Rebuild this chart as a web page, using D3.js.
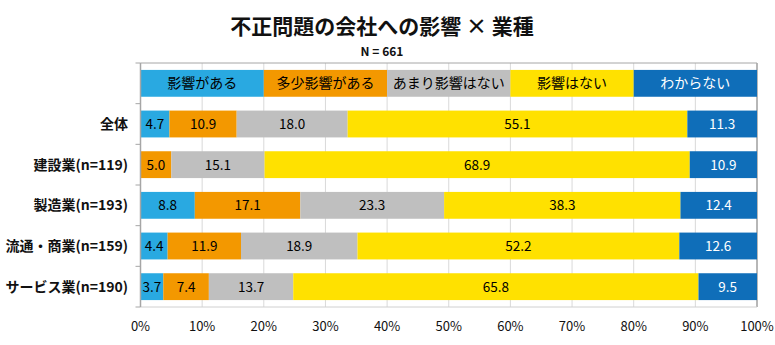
<!DOCTYPE html>
<html><head><meta charset="utf-8">
<script src="https://cdn.jsdelivr.net/npm/d3@7"></script>
<style>body{margin:0;background:#fff;} svg{display:block;font-family:"Noto Sans CJK JP","Noto Sans",sans-serif;}</style>
</head><body><svg id="c" width="775" height="345"></svg>
<script>
const title = "不正問題の会社への影響 × 業種";
const subtitle = "N = 661";
const categories = ["全体","建設業(n=119)","製造業(n=193)","流通・商業(n=159)","サービス業(n=190)"];
const seriesNames = ["影響がある","多少影響がある","あまり影響はない","影響はない","わからない"];
const vAru    = [4.7, 0,    8.8, 4.4, 3.7];
const vTasho  = [10.9, 5.0, 17.1, 11.9, 7.4];
const vAmari  = [18.0, 15.1, 23.3, 18.9, 13.7];
const vNai    = [55.1, 68.9, 38.3, 52.2, 65.8];
const vWakara = [11.3, 10.9, 12.4, 12.6, 9.5];
const xTicks = [0,10,20,30,40,50,60,70,80,90,100];
const colors = ["#29A9E1","#F39800","#BFBFBF","#FFE100","#0F6EB9"];
const textColors = ["#000","#000","#000","#000","#fff"];

const seriesVals = [vAru, vTasho, vAmari, vNai, vWakara];
const rows = categories.map((c,i)=>{
  const o = {cat:c};
  seriesNames.forEach((s,j)=>o[s]=seriesVals[j][i]);
  return o;
});

const svg = d3.select("#c");
const L = 140.5, R = 757, T = 63, B = 307;
const x = d3.scaleLinear().domain([0,1]).range([L,R]);
const xp = d3.scaleLinear().domain([0,100]).range([L,R]);
const LEG = "__legend__";
const y = d3.scaleBand().domain([LEG, ...categories]).range([T,B]).paddingInner(0.34).paddingOuter(0.17);

// title
svg.append("text").attr("x",382).attr("y",34).attr("text-anchor","middle")
  .attr("font-size",21).attr("font-weight","bold").attr("fill","#111").text(title);
svg.append("text").attr("x",382).attr("y",56).attr("text-anchor","middle")
  .attr("font-size",12).attr("font-weight","bold").attr("fill","#111").text(subtitle);

// gridlines
svg.append("g").selectAll("line").data(xTicks.slice(1)).join("line")
  .attr("x1",d=>xp(d)).attr("x2",d=>xp(d)).attr("y1",T).attr("y2",B)
  .attr("stroke","#d9d9d9").attr("stroke-width",1);

// frame
svg.append("line").attr("x1",L).attr("x2",R).attr("y1",T).attr("y2",T).attr("stroke","#a6a6a6");
svg.append("line").attr("x1",R).attr("x2",R).attr("y1",T).attr("y2",B).attr("stroke","#a6a6a6").attr("stroke-width",1.5);
svg.append("line").attr("x1",L).attr("x2",R).attr("y1",B).attr("y2",B).attr("stroke","#d0d0d0");

// legend row
const legW = 1/seriesNames.length;
const lg = svg.append("g");
seriesNames.forEach((s,j)=>{
  lg.append("rect").attr("x",x(j*legW)).attr("width",x((j+1)*legW)-x(j*legW))
    .attr("y",y(LEG)).attr("height",y.bandwidth()).attr("fill",colors[j]);
  lg.append("text").attr("x",x((j+0.5)*legW)).attr("y",y(LEG)+y.bandwidth()/2).attr("dy","0.36em")
    .attr("text-anchor","middle").attr("font-size",14).attr("fill",textColors[j]).text(s);
});

// stacked bars
const stack = d3.stack().keys(seriesNames).offset(d3.stackOffsetExpand);
const stacked = stack(rows);
const bars = svg.append("g");
stacked.forEach((layer,j)=>{
  const g = bars.append("g");
  g.selectAll("rect").data(layer).join("rect")
    .attr("x",d=>x(d[0])).attr("width",d=>Math.max(0,x(d[1])-x(d[0])))
    .attr("y",d=>y(d.data.cat)).attr("height",y.bandwidth()).attr("fill",colors[j]);
  g.selectAll("text").data(layer.filter(d=>d.data[layer.key]>0)).join("text")
    .attr("x",d=>(x(d[0])+x(d[1]))/2).attr("y",d=>y(d.data.cat)+y.bandwidth()/2).attr("dy","0.36em")
    .attr("text-anchor","middle").attr("font-size",13.5).attr("fill",textColors[j])
    .text(d=>d3.format(".1f")(d.data[layer.key]));
});

// left axis
const ax = svg.append("g");
ax.append("line").attr("x1",L).attr("x2",L).attr("y1",T).attr("y2",B).attr("stroke","#a6a6a6").attr("stroke-width",1.5);
const bounds = y.domain().map(d=>y(d)-y.step()*y.paddingInner()/2).slice(1);
ax.selectAll("line.tk").data([T, ...bounds, B]).join("line").attr("class","tk")
  .attr("x1",L-5).attr("x2",L).attr("y1",d=>d).attr("y2",d=>d).attr("stroke","#a6a6a6");
ax.selectAll("text").data(categories).join("text")
  .attr("x",128).attr("y",d=>y(d)+y.bandwidth()/2).attr("dy","0.36em").attr("text-anchor","end")
  .attr("font-size",14).attr("font-weight","bold").attr("fill","#111").text(d=>d);

// x tick labels
svg.append("g").selectAll("text").data(xTicks).join("text")
  .attr("x",d=>xp(d)).attr("y",326).attr("dy","0.36em").attr("text-anchor","middle")
  .attr("font-size",13).attr("fill","#111").text(d=>d+"%");
</script></body></html>
